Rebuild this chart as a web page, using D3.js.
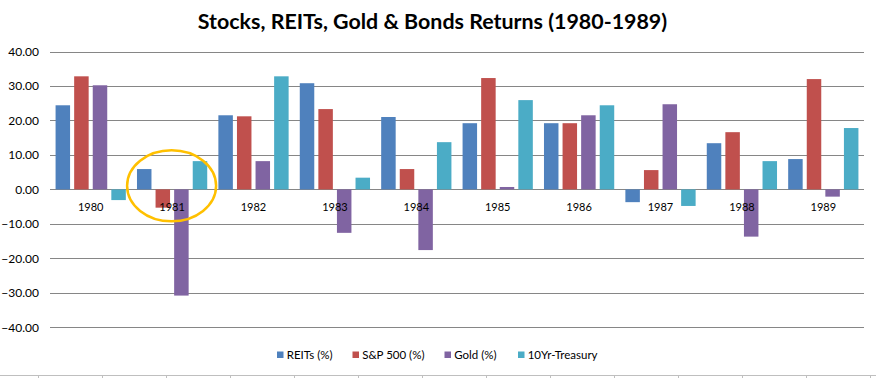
<!DOCTYPE html>
<html><head><meta charset="utf-8">
<script src="https://cdn.jsdelivr.net/npm/d3@7"></script>
<style>body{margin:0;background:#fff;} svg{display:block;}</style>
</head><body><svg id="c" width="876" height="378"></svg>
<script>
const years = ["1980","1981","1982","1983","1984","1985","1986","1987","1988","1989"];
const reits = [24.4, 5.9, 21.5, 30.8, 21.0, 19.2, 19.2, -3.7, 13.4, 8.8];
const sp500 = [32.8, -5.3, 21.2, 23.3, 5.9, 32.3, 19.2, 5.6, 16.6, 32.0];
const gold = [30.2, -30.8, 8.2, -12.6, -17.6, 0.7, 21.5, 24.7, -13.7, -2.1];
const treasury = [-3.1, 8.2, 32.8, 3.4, 13.7, 25.9, 24.4, -4.8, 8.2, 17.8];
const seriesNames = ["REITs (%)", "S&P 500 (%)", "Gold (%)", "10Yr-Treasury"];
const colors = ["#4F81BD", "#C0504D", "#8064A2", "#4BACC6"];
const yTicks = [40, 30, 20, 10, 0, -10, -20, -30, -40];
const title = "Stocks, REITs, Gold & Bonds Returns (1980-1989)";

const seriesVals = [reits, sp500, gold, treasury];
const svg = d3.select("#c");
const font = "Lato, 'Open Sans', sans-serif";

const x0 = d3.scaleBand().domain(years).range([50, 864]).paddingInner(0).paddingOuter(0);
const x1 = d3.scaleBand().domain(d3.range(4)).range([0, x0.bandwidth()]).paddingInner(0.22).paddingOuter(0.3);
const y = d3.scaleLinear().domain([-40, 40]).range([327.3, 51.5]);

// title
svg.append("text").attr("x", 432.5).attr("y", 29).attr("text-anchor", "middle")
  .attr("font-family", font).attr("font-weight", "bold").attr("font-size", 21.4).attr("fill", "#000").text(title);

// gridlines
svg.append("g").selectAll("line").data(yTicks).join("line")
  .attr("x1", 50).attr("x2", 864).attr("y1", d => Math.round(y(d)) + 0.5).attr("y2", d => Math.round(y(d)) + 0.5)
  .attr("stroke", "#868686").attr("stroke-width", 1);

// y axis labels
const yAxis = d3.axisLeft(y).tickValues(yTicks).tickFormat(d3.format(".2f")).tickSize(0).tickPadding(0);
const ya = svg.append("g").attr("transform", "translate(39,0)").call(yAxis);
ya.select(".domain").remove();
ya.selectAll("text").attr("font-family", font).attr("font-size", 12).attr("fill", "#000");

// bars
const groups = svg.append("g").selectAll("g").data(years).join("g")
  .attr("transform", d => `translate(${x0(d)},0)`);
groups.selectAll("rect").data((d, i) => seriesVals.map((s, k) => ({k, v: s[i]}))).join("rect")
  .attr("x", d => x1(d.k)).attr("width", x1.bandwidth())
  .attr("y", d => y(Math.max(0, d.v))).attr("height", d => Math.abs(y(d.v) - y(0)))
  .attr("fill", d => colors[d.k]);

// category labels
svg.append("g").selectAll("text").data(years).join("text")
  .attr("x", d => x0(d) + x0.bandwidth() / 2).attr("y", 211).attr("text-anchor", "middle")
  .attr("font-family", font).attr("font-size", 11).attr("fill", "#000").text(d => d);

// highlight ellipse
svg.append("ellipse").attr("cx", x0("1981") + x0.bandwidth() / 2 - 0.5).attr("cy", 185.8).attr("rx", 44.5).attr("ry", 35.5)
  .attr("fill", "none").attr("stroke", "#FFC000").attr("stroke-width", 2.5);

// legend
const legX = [277, 352.5, 444.5, 518];
const leg = svg.append("g").selectAll("g").data(seriesNames).join("g")
  .attr("transform", (d, i) => `translate(${legX[i]},0)`);
leg.append("rect").attr("x", 0).attr("y", 351.5).attr("width", 6.5).attr("height", 6.5).attr("fill", (d, i) => colors[i]);
leg.append("text").attr("x", 9.7).attr("y", 359).attr("font-family", font).attr("font-size", 11.5).attr("fill", "#000").text(d => d);

// stray bottom axis line
svg.append("line").attr("x1", 0).attr("x2", 876).attr("y1", 375.5).attr("y2", 375.5).attr("stroke", "#BFBFBF");
svg.append("g").selectAll("line").data(d3.range(14)).join("line")
  .attr("x1", d => 38.5 + d * 64).attr("x2", d => 38.5 + d * 64).attr("y1", 375).attr("y2", 378)
  .attr("stroke", "#BFBFBF");
</script></body></html>
